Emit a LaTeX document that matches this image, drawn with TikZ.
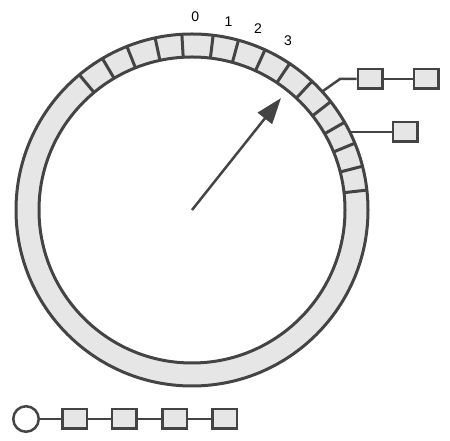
\documentclass[tikz,border=0pt]{standalone}
\usepackage{fontspec}
\setmainfont{Liberation Sans}
\usetikzlibrary{arrows.meta}
\definecolor{strokegray}{HTML}{444444}
\definecolor{cellfill}{HTML}{E6E6E6}
\begin{document}
\begin{tikzpicture}[x=1pt,y=1pt,
  ringline/.style={draw=strokegray, line width=3pt},
  cell/.style={draw=strokegray, fill=cellfill, line width=2.5pt, minimum width=24.5pt, minimum height=19.5pt, inner sep=0pt},
  link/.style={draw=strokegray, line width=2.5pt},
  thinlink/.style={draw=strokegray, line width=1.5pt},
  lbl/.style={font=\fontsize{14}{16}\selectfont, text=black, inner sep=0pt},
  hand/.style={draw=strokegray, line width=2.5pt, -{Triangle[length=26pt,width=18pt]}}]
\useasboundingbox (0,0) rectangle (450,441);
\coordinate (c) at (192,231);
% ring
\fill[cellfill, even odd rule] (c) circle (176pt) (c) circle (153pt);
\foreach \a in {129.8,120.6,111.7,102.1,93.3,83.1,74.7,65.5,56.3,47,38,29.9,22.3,14.4,6.5}
  \draw[ringline] ([shift={(\a:153pt)}]c) -- ([shift={(\a:176pt)}]c);
\draw[ringline] (c) circle (176pt);
\draw[ringline] (c) circle (153pt);
% labels
\node[lbl] (l0) at ([shift={(89:193pt)}]c) {0};
\node[lbl] (l1) at ([shift={(79:192pt)}]c) {1};
\node[lbl] (l2) at ([shift={(70:193pt)}]c) {2};
\node[lbl] (l3) at ([shift={(60.5:195pt)}]c) {3};
% hand
\coordinate (tip) at ([shift={(51.5:143pt)}]c);
\draw[hand] (c) -- (tip);
% chain from slot 5
\coordinate (s5) at ([shift={(42.3:176pt)}]c);
\coordinate (bend) at (340,362);
\node[cell] (b51) at (370,362) {};
\node[cell] (b52) at (426,362) {};
\draw[link] (s5) -- (bend) -- (b51.west);
\draw[link] (b51) -- (b52);
% chain from slot 7
\coordinate (s7) at (349.8,309);
\node[cell] (b71) at (405,309) {};
\draw[link] (s7) -- (b71);
% bottom list
\node[circle, draw=strokegray, fill=white, line width=2.5pt, minimum size=25.5pt, inner sep=0pt] (head) at (26,22) {};
\node[cell] (q1) at (74.5,22) {};
\node[cell] (q2) at (124,22) {};
\node[cell] (q3) at (174.5,22) {};
\node[cell] (q4) at (224.5,22) {};
\draw[thinlink] (head) -- (q1) -- (q2) -- (q3) -- (q4);
\end{tikzpicture}
\end{document}
